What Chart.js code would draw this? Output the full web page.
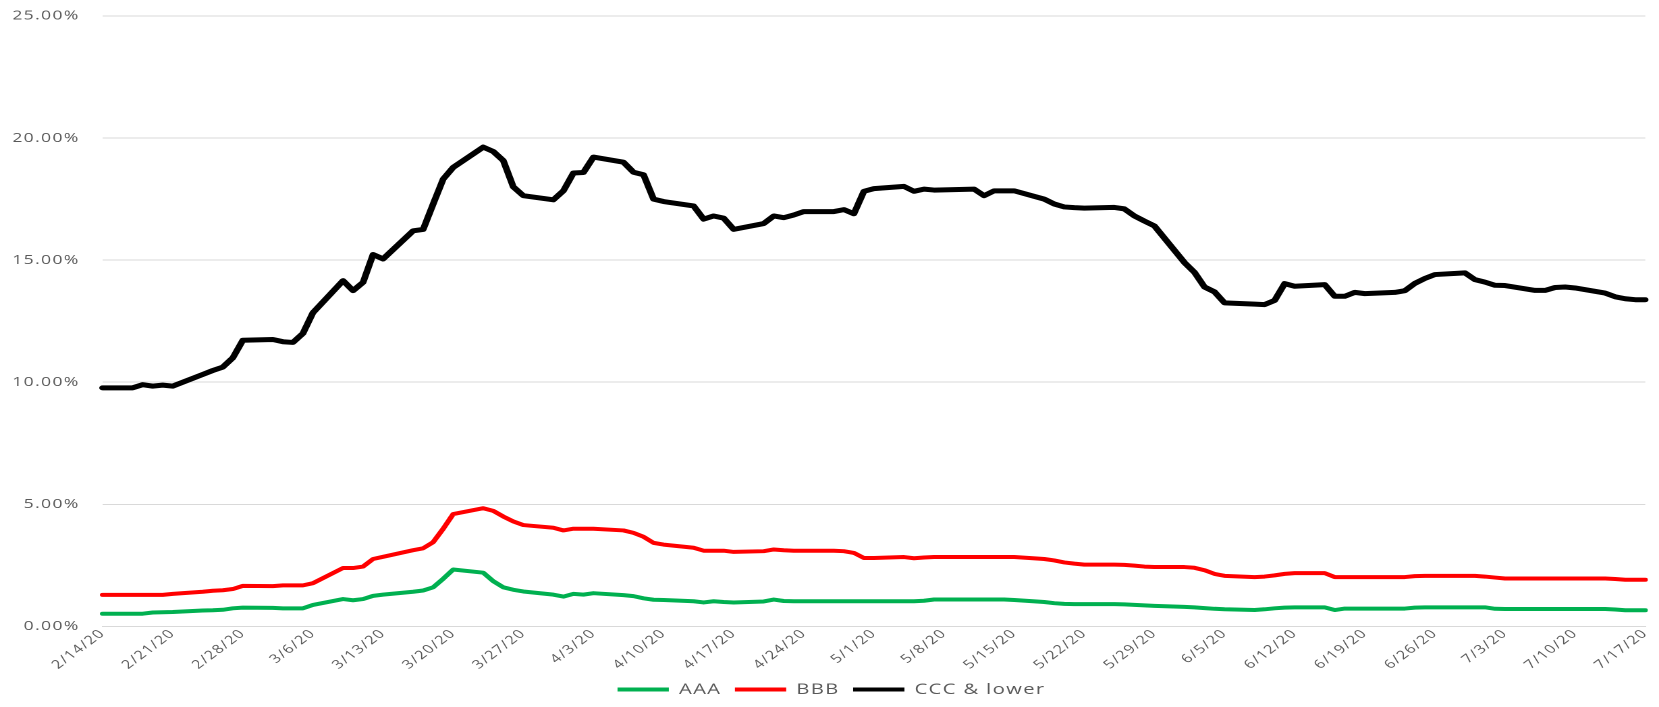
<!DOCTYPE html>
<html>
<head>
<meta charset="utf-8">
<script src="https://cdn.jsdelivr.net/npm/chart.js@4.4.1/dist/chart.umd.min.js"></script>
<style>
  html, body { margin: 0; padding: 0; background: #ffffff; }
</style>
</head>
<body>
<!-- the original picture is stretched sideways, so the canvas is drawn narrower and widened by CSS -->
<canvas id="spreadChart" width="1229" height="707" style="display:block;width:1659px;height:707px"></canvas>
<script>
// Trading days (weekdays), grouped by week
const tradingDays = [
    '2/14/20',
    '2/17/20', '2/18/20', '2/19/20', '2/20/20', '2/21/20',
    '2/24/20', '2/25/20', '2/26/20', '2/27/20', '2/28/20',
    '3/2/20', '3/3/20', '3/4/20', '3/5/20', '3/6/20',
    '3/9/20', '3/10/20', '3/11/20', '3/12/20', '3/13/20',
    '3/16/20', '3/17/20', '3/18/20', '3/19/20', '3/20/20',
    '3/23/20', '3/24/20', '3/25/20', '3/26/20', '3/27/20',
    '3/30/20', '3/31/20', '4/1/20', '4/2/20', '4/3/20',
    '4/6/20', '4/7/20', '4/8/20', '4/9/20', '4/10/20',
    '4/13/20', '4/14/20', '4/15/20', '4/16/20', '4/17/20',
    '4/20/20', '4/21/20', '4/22/20', '4/23/20', '4/24/20',
    '4/27/20', '4/28/20', '4/29/20', '4/30/20', '5/1/20',
    '5/4/20', '5/5/20', '5/6/20', '5/7/20', '5/8/20',
    '5/11/20', '5/12/20', '5/13/20', '5/14/20', '5/15/20',
    '5/18/20', '5/19/20', '5/20/20', '5/21/20', '5/22/20',
    '5/25/20', '5/26/20', '5/27/20', '5/28/20', '5/29/20',
    '6/1/20', '6/2/20', '6/3/20', '6/4/20', '6/5/20',
    '6/8/20', '6/9/20', '6/10/20', '6/11/20', '6/12/20',
    '6/15/20', '6/16/20', '6/17/20', '6/18/20', '6/19/20',
    '6/22/20', '6/23/20', '6/24/20', '6/25/20', '6/26/20',
    '6/29/20', '6/30/20', '7/1/20', '7/2/20', '7/3/20',
    '7/6/20', '7/7/20', '7/8/20', '7/9/20', '7/10/20',
    '7/13/20', '7/14/20', '7/15/20', '7/16/20', '7/17/20'
];

// Series values in percent, same order as tradingDays
const aaa = [
    0.52,
    0.52, 0.52, 0.57, 0.58, 0.59,
    0.65, 0.66, 0.68, 0.74, 0.77,
    0.76, 0.74, 0.74, 0.74, 0.88,
    1.12, 1.07, 1.12, 1.25, 1.30,
    1.42, 1.47, 1.60, 1.95, 2.33,
    2.20, 1.85, 1.60, 1.50, 1.43,
    1.30, 1.22, 1.33, 1.30, 1.36,
    1.28, 1.24, 1.15, 1.09, 1.08,
    1.03, 0.98, 1.03, 1.00, 0.98,
    1.02, 1.10, 1.04, 1.03, 1.03,
    1.03, 1.03, 1.03, 1.03, 1.03,
    1.03, 1.03, 1.05, 1.10, 1.10,
    1.10, 1.10, 1.10, 1.10, 1.08,
    1.00, 0.95, 0.92, 0.91, 0.91,
    0.91, 0.90, 0.88, 0.86, 0.84,
    0.80, 0.78, 0.75, 0.72, 0.70,
    0.67, 0.70, 0.74, 0.77, 0.78,
    0.78, 0.67, 0.73, 0.73, 0.73,
    0.73, 0.73, 0.77, 0.78, 0.78,
    0.78, 0.78, 0.78, 0.72, 0.71,
    0.71, 0.71, 0.71, 0.71, 0.71,
    0.71, 0.69, 0.66, 0.66, 0.66
];

const bbb = [
    1.29,
    1.29, 1.29, 1.29, 1.29, 1.33,
    1.42, 1.46, 1.48, 1.53, 1.66,
    1.65, 1.68, 1.68, 1.68, 1.77,
    2.39, 2.39, 2.45, 2.76, 2.85,
    3.12, 3.20, 3.45, 4.00, 4.60,
    4.84, 4.73, 4.50, 4.30, 4.15,
    4.04, 3.93, 4.00, 4.00, 4.00,
    3.93, 3.83, 3.67, 3.42, 3.35,
    3.22, 3.10, 3.10, 3.10, 3.05,
    3.08, 3.15, 3.12, 3.10, 3.10,
    3.10, 3.08, 3.01, 2.80, 2.80,
    2.84, 2.79, 2.82, 2.84, 2.84,
    2.84, 2.84, 2.84, 2.84, 2.84,
    2.76, 2.70, 2.62, 2.57, 2.53,
    2.53, 2.52, 2.49, 2.45, 2.43,
    2.43, 2.40, 2.30, 2.15, 2.07,
    2.02, 2.04, 2.09, 2.15, 2.18,
    2.18, 2.02, 2.02, 2.02, 2.02,
    2.02, 2.02, 2.06, 2.07, 2.07,
    2.07, 2.07, 2.04, 2.00, 1.96,
    1.96, 1.96, 1.96, 1.96, 1.96,
    1.96, 1.94, 1.91, 1.91, 1.91
];

const cccLower = [
    9.77,
    9.77, 9.90, 9.84, 9.88, 9.84,
    10.32, 10.48, 10.62, 11.00, 11.72,
    11.75, 11.66, 11.63, 12.00, 12.85,
    14.16, 13.75, 14.09, 15.23, 15.05,
    16.20, 16.26, 17.30, 18.32, 18.80,
    19.63, 19.45, 19.08, 18.00, 17.64,
    17.47, 17.84, 18.57, 18.59, 19.22,
    19.01, 18.60, 18.50, 17.50, 17.40,
    17.22, 16.68, 16.81, 16.72, 16.26,
    16.50, 16.81, 16.74, 16.85, 16.99,
    16.99, 17.07, 16.90, 17.82, 17.93,
    18.02, 17.82, 17.91, 17.87, 17.88,
    17.91, 17.64, 17.84, 17.84, 17.84,
    17.50, 17.30, 17.18, 17.15, 17.13,
    17.16, 17.10, 16.81, 16.60, 16.40,
    14.90, 14.50, 13.90, 13.70, 13.25,
    13.20, 13.18, 13.35, 14.04, 13.93,
    14.00, 13.52, 13.52, 13.68, 13.63,
    13.68, 13.75, 14.05, 14.25, 14.41,
    14.48, 14.20, 14.10, 13.97, 13.96,
    13.76, 13.76, 13.88, 13.90, 13.86,
    13.65, 13.50, 13.42, 13.38, 13.38
];

// Axis range and the y tick values
const firstDay = '2/14/20';
const lastDay = '7/17/20';
const yTicks = [0, 5, 10, 15, 20, 25];

// Build the calendar-day axis (weekends have no data, line spans over them)
function parseDay(s) {
    const p = s.split('/');
    return new Date(2000 + Number(p[2]), Number(p[0]) - 1, Number(p[1]));
}
function fmtDay(d) {
    return (d.getMonth() + 1) + '/' + d.getDate() + '/' + String(d.getFullYear()).slice(2);
}
const calendar = [];
for (let d = parseDay(firstDay); d <= parseDay(lastDay); d.setDate(d.getDate() + 1)) {
    calendar.push(fmtDay(d));
}
function onCalendar(values) {
    return calendar.map(day => {
        const i = tradingDays.indexOf(day);
        return i >= 0 ? values[i] : null;
    });
}

const textColor = '#595959';
const fontFamily = "'Open Sans', 'DejaVu Sans', sans-serif";

// A bit of letter spacing on all chart text
const spacingPlugin = {
    id: 'spacing',
    beforeLayout(chart) { chart.ctx.letterSpacing = '1px'; },
    beforeDraw(chart) { chart.ctx.letterSpacing = '1px'; }
};

const ctx = document.getElementById('spreadChart').getContext('2d');
new Chart(ctx, {
    type: 'line',
    data: {
        labels: calendar,
        datasets: [
            { label: 'AAA', data: onCalendar(aaa), borderColor: '#00B050', backgroundColor: '#00B050', borderWidth: 4 },
            { label: 'BBB', data: onCalendar(bbb), borderColor: '#FF0000', backgroundColor: '#FF0000', borderWidth: 4 },
            { label: 'CCC & lower', data: onCalendar(cccLower), borderColor: '#000000', backgroundColor: '#000000', borderWidth: 5 }
        ]
    },
    options: {
        responsive: false,
        devicePixelRatio: 2,
        animation: false,
        spanGaps: true,
        elements: {
            point: { radius: 0, hoverRadius: 0 },
            line: { tension: 0, borderJoinStyle: 'round', borderCapStyle: 'round' }
        },
        layout: { padding: { left: 10, right: 7, top: 16, bottom: 0 } },
        scales: {
            x: {
                grid: { display: false, drawTicks: false },
                border: { display: true, color: '#d9d9d9', width: 1 },
                ticks: {
                    autoSkip: false,
                    minRotation: 45,
                    maxRotation: 45,
                    padding: 0,
                    color: textColor,
                    font: { family: fontFamily, size: 12 },
                    callback(value, index) {
                        return index % 7 === 0 ? calendar[index] : '';
                    }
                }
            },
            y: {
                min: yTicks[0],
                max: yTicks[yTicks.length - 1],
                afterFit(scale) { scale.width = 66; },
                afterBuildTicks(scale) { scale.ticks = yTicks.map(v => ({ value: v })); },
                grid: { color: '#d9d9d9', lineWidth: 1, drawTicks: true, tickLength: 17, tickColor: 'rgba(0,0,0,0)' },
                border: { display: false },
                ticks: {
                    padding: 0,
                    color: textColor,
                    font: { family: fontFamily, size: 13 },
                    callback: v => v.toFixed(2) + '%'
                }
            }
        },
        plugins: {
            tooltip: { enabled: false },
            legend: {
                position: 'bottom',
                labels: {
                    color: textColor,
                    font: { family: fontFamily, size: 15 },
                    boxWidth: 38,
                    boxHeight: 4,
                    padding: 10,
                    generateLabels(chart) {
                        const items = Chart.defaults.plugins.legend.labels.generateLabels(chart);
                        items.forEach(it => { it.lineWidth = 0; it.fillStyle = it.strokeStyle; });
                        return items;
                    }
                }
            }
        }
    },
    plugins: [spacingPlugin]
});
</script>
</body>
</html>
